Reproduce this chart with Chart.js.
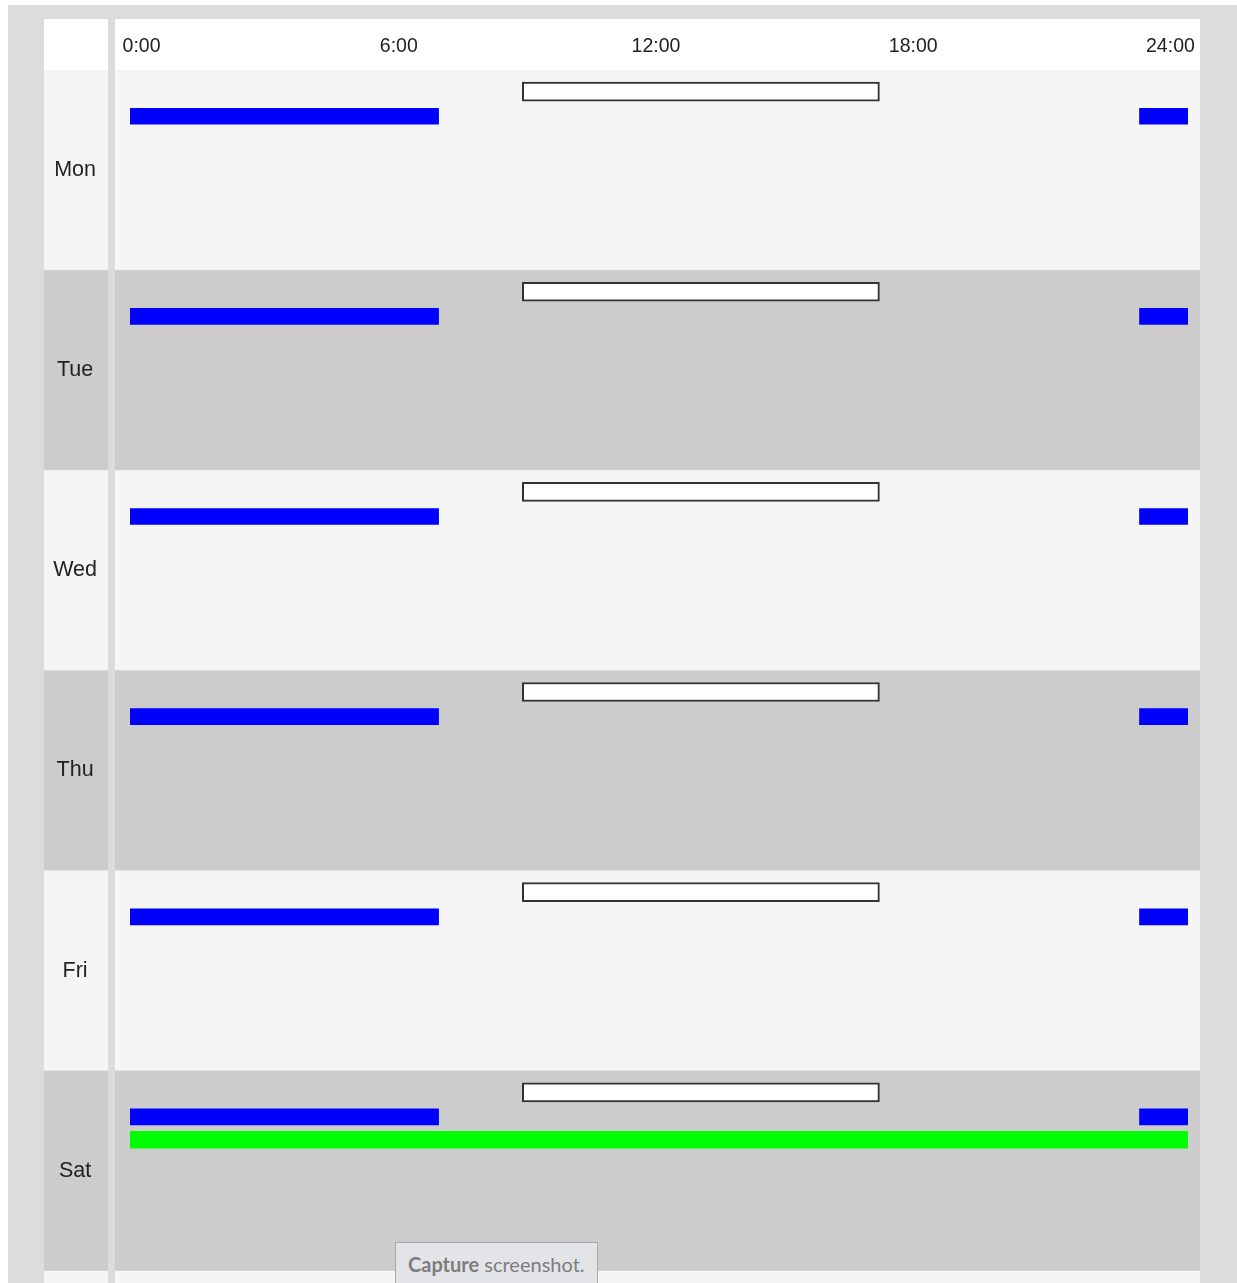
<!DOCTYPE html>
<html>
<head>
<meta charset="utf-8">
<title>Weekly schedule</title>
<script src="https://cdn.jsdelivr.net/npm/chart.js@4.4.1/dist/chart.umd.min.js"></script>
<style>
  html, body { margin: 0; padding: 0; background: #fff; overflow: hidden; width: 1237px; height: 1283px; }
  #frame { position: absolute; left: 8px; top: 5px; right: 0; bottom: 0; background: #dcdcdc; }
  #schedule { position: absolute; left: 44px; top: 19px; width: 1156px; height: 1452px; }
  #tip {
    position: absolute; left: 395px; top: 1242px; width: 203px; height: 60px;
    box-sizing: border-box; background: #e3e4e8; border: 1px solid #a8a8a8;
    font-family: Lato, "Open Sans", sans-serif; font-size: 20px; line-height: 22px;
    color: #7d7d7d; padding: 10px 0 0 12px; white-space: nowrap;
  }
</style>
</head>
<body>
<div id="frame"></div>
<canvas id="schedule" width="1156" height="1452"></canvas>
<div id="tip"><b>Capture</b> screenshot.</div>
<script>
// --- Data (hours of the day) ---
const DAYS = ['Mon', 'Tue', 'Wed', 'Thu', 'Fri', 'Sat', 'Sun'];
const HOUR_TICKS = [0, 6, 12, 18, 24];
// outlined white block per day, [start, end]
const SCHEDULE = [[8.9, 17], [8.9, 17], [8.9, 17], [8.9, 17], [8.9, 17], [8.9, 17], null];
// blue blocks: early morning and late evening
const BLUE_EARLY = [[0, 7], [0, 7], [0, 7], [0, 7], [0, 7], [0, 7], null];
const BLUE_LATE = [[22.9, 24], [22.9, 24], [22.9, 24], [22.9, 24], [22.9, 24], [22.9, 24], null];
// green block, Saturday only
const GREEN = [null, null, null, null, null, [0, 24], null];

// vertical lane of each series inside a day row (fraction of the row)
const LANE = { schedule: 0.108, blue: 0.231, green: 0.345 };
const FONT = 'Liberation Sans, Arial, sans-serif';

function toPoints(ranges, lane) {
  return ranges.flatMap((r, i) => r ? [{ y: i + lane, x: r }] : []);
}

// row stripes, white header and the day-column separator
const rowBands = {
  id: 'rowBands',
  beforeDraw(chart) {
    const { ctx, chartArea, scales: { y } } = chart;
    const w = chart.width;
    ctx.save();
    ctx.fillStyle = '#ffffff';
    ctx.fillRect(0, 0, w, chartArea.top);
    DAYS.forEach((d, i) => {
      const top = y.getPixelForValue(i);
      const bottom = y.getPixelForValue(i + 1);
      ctx.fillStyle = i % 2 ? '#cccccc' : '#f5f5f5';
      ctx.fillRect(0, top, w, bottom - top);
    });
    ctx.fillStyle = '#dcdcdc';
    ctx.fillRect(64, 0, 7, chart.height);
    ctx.restore();
  }
};

new Chart(document.getElementById('schedule'), {
  type: 'bar',
  data: {
    datasets: [
      {
        label: 'Schedule',
        data: toPoints(SCHEDULE, LANE.schedule),
        backgroundColor: '#ffffff',
        borderColor: '#333333',
        borderWidth: 2,
        borderSkipped: false,
        barThickness: 19,
        grouped: false
      },
      {
        label: 'Blue',
        data: toPoints(BLUE_EARLY, LANE.blue).concat(toPoints(BLUE_LATE, LANE.blue)),
        backgroundColor: '#0000ff',
        barThickness: 16,
        grouped: false
      },
      {
        label: 'Green',
        data: toPoints(GREEN, LANE.green),
        backgroundColor: '#00ff00',
        barThickness: 17,
        grouped: false
      }
    ]
  },
  options: {
    indexAxis: 'y',
    responsive: false,
    animation: false,
    events: [],
    layout: { padding: { right: 12 } },
    plugins: { legend: { display: false }, tooltip: { enabled: false } },
    scales: {
      x: { type: 'linear', min: 0, max: 24, offset: false, display: false },
      y: { type: 'linear', min: 0, max: 7, reverse: true, offset: false, display: false },
      days: {
        type: 'category',
        axis: 'y',
        position: 'left',
        labels: DAYS,
        offset: true,
        grid: { display: false, drawTicks: false },
        border: { display: false },
        afterFit: s => { s.width = 86; s.paddingTop = 0; s.paddingBottom = 0; },
        ticks: { crossAlign: 'center', padding: 33, color: '#222', font: { family: FONT, size: 21.5 } }
      },
      hours: {
        type: 'linear',
        axis: 'x',
        position: 'top',
        min: -0.27,
        max: 24.41,
        grid: { display: false, drawTicks: false },
        border: { display: false },
        afterBuildTicks: s => { s.ticks = HOUR_TICKS.map(v => ({ value: v })); },
        afterFit: s => { s.height = 51; s.paddingLeft = 0; s.paddingRight = 0; },
        ticks: {
          autoSkip: false,
          maxRotation: 0,
          padding: 12,
          color: '#222',
          font: { family: FONT, size: 19.5 },
          callback: v => v + ':00'
        }
      }
    }
  },
  plugins: [rowBands]
});
</script>
</body>
</html>
